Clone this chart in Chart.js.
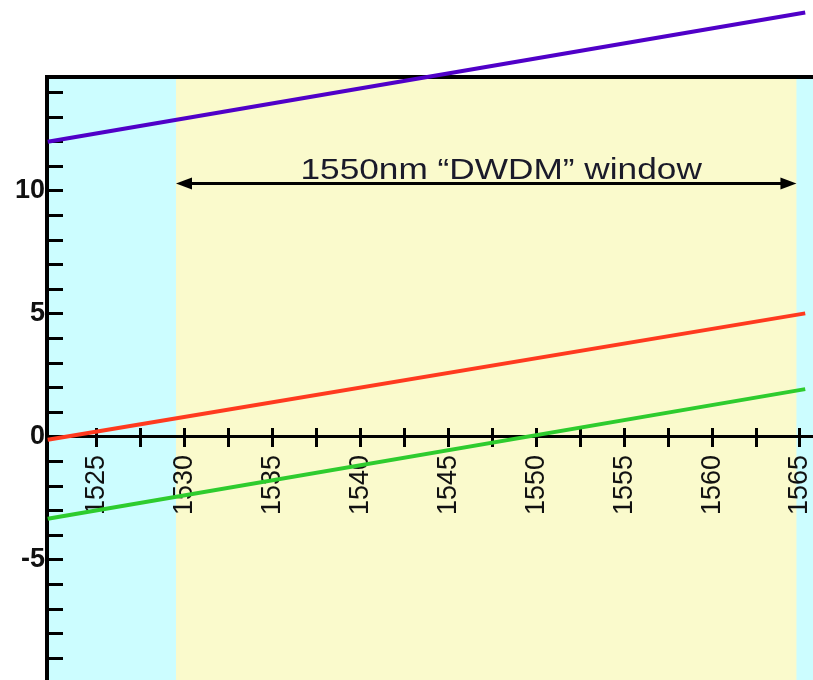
<!DOCTYPE html>
<html>
<head>
<meta charset="utf-8">
<script src="https://cdn.jsdelivr.net/npm/chart.js@4.4.1/dist/chart.umd.min.js"></script>
<style>
  html, body { margin: 0; padding: 0; background: #fff; overflow: hidden; }
  #wrap { width: 830px; height: 720px; }
</style>
</head>
<body>
<div id="wrap"><canvas id="myChart" width="830" height="720"></canvas></div>
<script>
// wavelength (nm) at both ends of each straight line
var wavelengths = [1522.2, 1565.3];
var purpleSeries = [12.0, 17.25];
var redSeries = [-0.12, 5.02];
var greenSeries = [-3.33, 1.94];

var xTickLabels = [1525, 1530, 1535, 1540, 1545, 1550, 1555, 1560, 1565];
var yTickLabels = [-5, 0, 5, 10];

var windowBand = [1529.5, 1564.8];
var windowLabel = "1550nm \u201CDWDM\u201D window";
var windowLabelX = 1548;
var windowArrowY = 10.3;

var FONT = "'Liberation Sans', Arial, sans-serif";

function toPoints(ys) {
  return wavelengths.map(function (x, i) { return { x: x, y: ys[i] }; });
}

var bandPlugin = {
  id: "bands",
  beforeDraw: function (chart) {
    var c = chart.ctx, a = chart.chartArea, xs = chart.scales.x;
    c.save();
    c.fillStyle = "#ccfdff";
    c.fillRect(a.left, a.top, a.right - a.left, a.bottom - a.top);
    var x1 = xs.getPixelForValue(windowBand[0]);
    var x2 = xs.getPixelForValue(windowBand[1]);
    c.fillStyle = "#fafacc";
    c.fillRect(x1, a.top, x2 - x1, a.bottom - a.top);
    c.restore();
  },
  beforeDatasetsDraw: function (chart) {
    var c = chart.ctx, a = chart.chartArea, xs = chart.scales.x, ys = chart.scales.y;
    c.save();
    // frame round the plot
    c.strokeStyle = "#000";
    c.lineWidth = 4;
    c.strokeRect(a.left, a.top, a.right - a.left, a.bottom - a.top);

    // double arrow across the window
    var x1 = xs.getPixelForValue(windowBand[0]);
    var x2 = xs.getPixelForValue(windowBand[1]);
    var y = ys.getPixelForValue(windowArrowY);
    var head = 16, hw = 6;
    c.lineWidth = 3;
    c.beginPath();
    c.moveTo(x1 + head - 2, y);
    c.lineTo(x2 - head + 2, y);
    c.stroke();
    c.fillStyle = "#000";
    c.beginPath();
    c.moveTo(x1, y); c.lineTo(x1 + head, y - hw); c.lineTo(x1 + head, y + hw); c.closePath();
    c.fill();
    c.beginPath();
    c.moveTo(x2, y); c.lineTo(x2 - head, y - hw); c.lineTo(x2 - head, y + hw); c.closePath();
    c.fill();

    // label above the arrow
    c.font = "29px " + FONT;
    c.fillStyle = "#1a1a2a";
    c.textAlign = "center";
    c.textBaseline = "alphabetic";
    c.translate(xs.getPixelForValue(windowLabelX), y - 5);
    c.scale(1.215, 1);
    c.fillText(windowLabel, 0, 0);
    c.restore();
  }
};

function keepTicks(scale) {
  scale.ticks = scale.ticks.filter(function (t) { return t.value >= 1524; });
}
function noSidePadding(scale) {
  scale.paddingLeft = 0;
  scale.paddingRight = 0;
}

var ctx = document.getElementById("myChart").getContext("2d");
var myChart = new Chart(ctx, {
  type: "scatter",
  data: {
    datasets: [
      { data: toPoints(purpleSeries), borderColor: "#5000c8", borderWidth: 4, showLine: true, pointRadius: 0, clip: false },
      { data: toPoints(redSeries), borderColor: "#ff3a1f", borderWidth: 4, showLine: true, pointRadius: 0, clip: false },
      { data: toPoints(greenSeries), borderColor: "#2ecc2e", borderWidth: 4, showLine: true, pointRadius: 0, clip: false }
    ]
  },
  options: {
    responsive: false,
    animation: false,
    devicePixelRatio: 1,
    layout: { padding: { top: 77, left: 0, right: 0, bottom: 0 } },
    plugins: { legend: { display: false }, tooltip: { enabled: false } },
    scales: {
      x: {
        type: "linear",
        position: { y: 0 },
        min: 1522.16,
        max: 1566.71,
        afterBuildTicks: keepTicks,
        afterFit: noSidePadding,
        border: { display: true, color: "#000", width: 3 },
        grid: { drawOnChartArea: false, color: "#000", lineWidth: 3, tickLength: 9 },
        ticks: {
          stepSize: 2.5,
          includeBounds: false,
          minRotation: 90,
          maxRotation: 90,
          autoSkip: false,
          padding: 9,
          color: "#111",
          font: { family: FONT, size: 27 },
          callback: function (v) { return xTickLabels.indexOf(v) >= 0 ? String(v) : ""; }
        }
      },
      x2: {
        type: "linear",
        position: { y: 0 },
        min: 1522.16,
        max: 1566.71,
        afterBuildTicks: keepTicks,
        afterFit: noSidePadding,
        border: { display: false },
        grid: { drawOnChartArea: false, color: "#000", lineWidth: 3, tickLength: -9 },
        ticks: { stepSize: 2.5, includeBounds: false, display: false }
      },
      y: {
        type: "linear",
        position: "left",
        min: -10.12,
        max: 14.63,
        afterFit: function (scale) { scale.width = 47; },
        border: { display: true, color: "#000", width: 4 },
        grid: { drawOnChartArea: false, color: "#000", lineWidth: 3, tickLength: -16 },
        ticks: {
          stepSize: 1,
          includeBounds: false,
          autoSkip: false,
          padding: 18,
          color: "#111",
          font: { family: FONT, size: 27, weight: "bold" },
          callback: function (v) { return yTickLabels.indexOf(v) >= 0 ? String(v) : ""; }
        }
      }
    }
  },
  plugins: [bandPlugin]
});
</script>
</body>
</html>
